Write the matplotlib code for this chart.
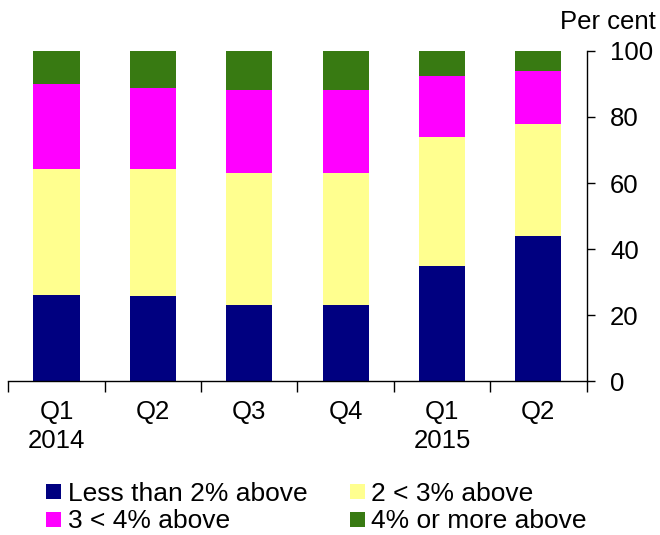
import matplotlib
matplotlib.use("Agg")
import matplotlib.pyplot as plt
from matplotlib.patches import Patch
import numpy as np

plt.rcParams['font.family'] = ['Liberation Sans', 'DejaVu Sans']

categories = ["Q1\n2014", "Q2", "Q3", "Q4", "Q1\n2015", "Q2"]
series_names = ["Less than 2% above", "2 < 3% above", "3 < 4% above", "4% or more above"]
less_2 = [26.0, 25.7, 23.0, 23.0, 35.0, 44.0]
from_2_3 = [38.4, 38.7, 39.9, 39.9, 38.8, 33.9]
from_3_4 = [25.7, 24.5, 25.2, 25.2, 18.6, 16.0]
over_4 = [9.9, 11.1, 11.9, 11.9, 7.6, 6.1]
colors = ["#000080", "#FFFF8F", "#FF00FF", "#387A12"]

fig = plt.figure(figsize=(6.6, 5.35), dpi=100)
ax = fig.add_axes([0.0127, 0.287, 0.876, 0.618])

x = np.arange(len(categories))
bottom = np.zeros(len(categories))
for vals, c in zip([less_2, from_2_3, from_3_4, over_4], colors):
    ax.bar(x, vals, width=0.48, bottom=bottom, color=c, edgecolor='none')
    bottom += np.array(vals)

ax.set_xlim(-0.5, len(categories) - 0.5)
ax.set_ylim(0, 100)

ax.spines['left'].set_visible(False)
ax.spines['top'].set_visible(False)
ax.spines['right'].set_linewidth(1.0)
ax.spines['bottom'].set_linewidth(1.0)

ax.yaxis.tick_right()
ax.set_yticks([0, 20, 40, 60, 80, 100])
ax.tick_params(axis='y', direction='out', length=6, width=1, labelsize=18.5, pad=11)

ax.set_xticks(x)
ax.set_xticklabels(categories, linespacing=1.3)
ax.set_xticks(np.arange(-0.5, len(categories), 1.0), minor=True)
ax.tick_params(axis='x', which='major', length=0, labelsize=18.5, pad=13)
ax.tick_params(axis='x', which='minor', direction='out', length=8, width=1)

fig.text(0.993, 0.958, "Per cent", ha='right', va='center', fontsize=18.5)

handles = [Patch(facecolor=c, edgecolor='none') for c in colors]
order = [0, 2, 1, 3]
fig.legend([handles[i] for i in order], [series_names[i] for i in order],
           ncol=2, loc='lower left', bbox_to_anchor=(0.07, 0.003),
           frameon=False, fontsize=19, handlelength=0.57, handleheight=0.5,
           handletextpad=0.25, columnspacing=1.6, labelspacing=0.12,
           borderpad=0.0, borderaxespad=0.0)

fig.savefig("out.png", dpi=100)
